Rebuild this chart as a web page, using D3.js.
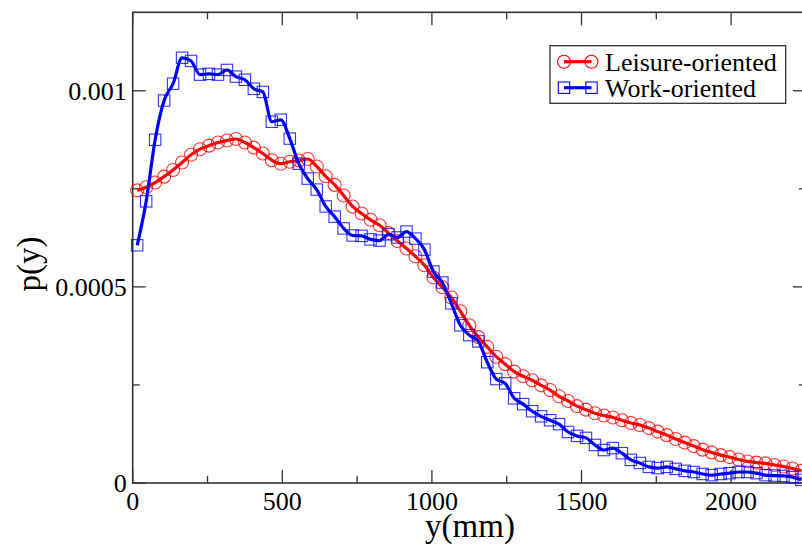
<!DOCTYPE html>
<html>
<head>
<meta charset="utf-8">
<script src="https://cdn.jsdelivr.net/npm/d3@7/dist/d3.min.js"></script>
<style>
  body { margin: 0; background: #fff; }
  svg { display: block; font-family: "Liberation Serif", "DejaVu Serif", serif; }
</style>
</head>
<body>
<svg width="802" height="546"></svg>
<script>
// bin centres, mm (30 mm bins)
var positions = d3.range(75).map(function (i) { return 15 + 30 * i })

var leisure = [
  0.000746, 0.000754, 0.000766, 0.000781, 0.000798, 0.000817, 0.000837, 0.000851, 0.000860, 0.000868,
  0.000873, 0.000877, 0.000868, 0.000855, 0.000840, 0.000823, 0.000814, 0.000819, 0.000822, 0.000826,
  0.000807, 0.000782, 0.000760, 0.000733, 0.000705, 0.000687, 0.000671, 0.000657, 0.000637, 0.000617,
  0.000598, 0.000578, 0.000555, 0.000524, 0.000499, 0.000473, 0.000438, 0.000402, 0.000372, 0.000347,
  0.000322, 0.000303, 0.000284, 0.000272, 0.000262, 0.000249, 0.000237, 0.000221, 0.000209, 0.000196,
  0.000187, 0.000178, 0.000172, 0.000167, 0.000160, 0.000153, 0.000148, 0.000140, 0.000131, 0.000122,
  0.000112, 0.000103, 0.000094, 0.000085, 0.000078, 0.000071, 0.000066, 0.000060, 0.000055, 0.000052,
  0.000050, 0.000046, 0.000042, 0.000037, 0.000031
]

var work = [
  0.000606, 0.000718, 0.000875, 0.000975, 0.001018, 0.001084, 0.001076, 0.001041, 0.001043, 0.001041,
  0.001053, 0.001036, 0.001028, 0.001005, 0.000997, 0.000921, 0.000926, 0.000878, 0.000814, 0.000776,
  0.000748, 0.000705, 0.000679, 0.000649, 0.000631, 0.000630, 0.000621, 0.000618, 0.000634, 0.000626,
  0.000641, 0.000623, 0.000595, 0.000539, 0.000511, 0.000458, 0.000402, 0.000377, 0.000361, 0.000308,
  0.000265, 0.000254, 0.000216, 0.000201, 0.000183, 0.000170, 0.000160, 0.000150, 0.000130, 0.000120,
  0.000115, 0.000097, 0.000084, 0.000089, 0.000076, 0.000059, 0.000051, 0.000041, 0.000038, 0.000041,
  0.000036, 0.000031, 0.000028, 0.000023, 0.000020, 0.000023, 0.000025, 0.000028, 0.000028, 0.000025,
  0.000020, 0.000019, 0.000018, 0.000015, 0.000008
]

var seriesNames = ['Leisure-oriented', 'Work-oriented']
var xTicks = [0, 500, 1000, 1500, 2000]
var xMinor = [250, 750, 1250, 1750, 2250]
var yTicks = [0, 0.0005, 0.001]
var yTickLabels = ['0', '0.0005', '0.001']
var yMinor = [0.00025, 0.00075]

var svg = d3.select('svg')
var plotL = 132.7, plotR = 805.9, plotT = 12.3, plotB = 483

var x = d3.scaleLinear().domain([0, 2250]).range([plotL, plotR])
var y = d3.scaleLinear().domain([0, 0.0012]).range([plotB, plotT])

var axisColor = '#333'

// ticks, all pointing inward
function xticks (vals, len) {
  var g = svg.append('g').attr('stroke', axisColor).attr('stroke-width', 1.3)
  vals.forEach(function (v) {
    g.append('line').attr('x1', x(v)).attr('x2', x(v)).attr('y1', plotB).attr('y2', plotB - len)
    g.append('line').attr('x1', x(v)).attr('x2', x(v)).attr('y1', plotT).attr('y2', plotT + len)
  })
}
xticks(xTicks, 13)
xticks(xMinor, 7)

function yticks (vals, len) {
  var g = svg.append('g').attr('stroke', axisColor).attr('stroke-width', 1.3)
  vals.forEach(function (v) {
    g.append('line').attr('x1', plotL).attr('x2', plotL + len).attr('y1', y(v)).attr('y2', y(v))
    g.append('line').attr('x1', plotR).attr('x2', plotR - len).attr('y1', y(v)).attr('y2', y(v))
  })
}
yticks(yTicks, 13)
yticks(yMinor, 7)

// tick labels
svg.append('g').selectAll('text')
    .data(xTicks)
    .enter()
    .append('text')
    .attr('x', function (d) { return x(d) })
    .attr('y', 510)
    .attr('text-anchor', 'middle')
    .style('font-size', '26px')
    .text(function (d) { return d })

svg.append('g').selectAll('text')
    .data(yTicks)
    .enter()
    .append('text')
    .attr('x', plotL - 6)
    .attr('y', function (d) { return y(d) + 9 })
    .attr('text-anchor', 'end')
    .style('font-size', '26px')
    .text(function (d, i) { return yTickLabels[i] })

// axis titles
svg.append('text')
    .attr('x', 470).attr('y', 537)
    .attr('text-anchor', 'middle')
    .style('font-size', '33px')
    .text('y(mm)')

svg.append('text')
    .attr('transform', 'translate(40,264) rotate(-90)')
    .attr('text-anchor', 'middle')
    .style('font-size', '33px')
    .text('p(y)')

// frame
svg.append('rect')
    .attr('x', plotL).attr('y', plotT)
    .attr('width', plotR - plotL).attr('height', plotB - plotT)
    .attr('fill', 'none').attr('stroke', axisColor).attr('stroke-width', 1.6)

var line = d3.line()
    .x(function (d) { return x(d[0]) })
    .y(function (d) { return y(d[1]) })
    .curve(d3.curveMonotoneX)

var sets = [
  { name: seriesNames[0], vals: leisure, color: '#ff0000', shape: 'circle' },
  { name: seriesNames[1], vals: work, color: '#0000ff', shape: 'square' }
]

sets.forEach(function (s) {
  var pts = positions.map(function (p, i) { return [p, s.vals[i]] })
  var g = svg.append('g')
  g.append('path')
      .datum(pts)
      .attr('d', line)
      .attr('fill', 'none')
      .attr('stroke', s.color)
      .attr('stroke-width', 3.2)
      .attr('stroke-linejoin', 'round')
  if (s.shape === 'circle') {
    g.selectAll('circle')
        .data(pts)
        .enter()
        .append('circle')
        .attr('cx', function (d) { return x(d[0]) })
        .attr('cy', function (d) { return y(d[1]) })
        .attr('r', 6.5)
        .attr('fill', 'none')
        .attr('stroke', s.color)
        .attr('stroke-opacity', 0.8)
        .attr('stroke-width', 1.1)
  } else {
    g.selectAll('rect')
        .data(pts)
        .enter()
        .append('rect')
        .attr('x', function (d) { return x(d[0]) - 5.7 })
        .attr('y', function (d) { return y(d[1]) - 5.7 })
        .attr('width', 11.4)
        .attr('height', 11.4)
        .attr('fill', 'none')
        .attr('stroke', s.color)
        .attr('stroke-opacity', 0.8)
        .attr('stroke-width', 1.1)
  }
})

// legend
var legend = svg.append('g')
legend.append('rect')
    .attr('x', 550).attr('y', 45.7)
    .attr('width', 235.7).attr('height', 57.6)
    .attr('fill', '#fff').attr('stroke', axisColor).attr('stroke-width', 1.3)

var rows = legend.selectAll('g')
    .data(sets)
    .enter()
    .append('g')
    .attr('transform', function (d, i) { return 'translate(0,' + (61.7 + i * 26) + ')' })

rows.append('line')
    .attr('x1', 564).attr('x2', 591.5)
    .attr('stroke', function (d) { return d.color })
    .attr('stroke-width', 3.2)

rows.each(function (d) {
  var r = d3.select(this)
  ;[564, 591.5].forEach(function (cx) {
    if (d.shape === 'circle') {
      r.append('circle').attr('cx', cx).attr('cy', 0).attr('r', 6.5)
        .attr('fill', 'none').attr('stroke', d.color).attr('stroke-width', 1.1)
    } else {
      r.append('rect').attr('x', cx - 5.7).attr('y', -5.7).attr('width', 11.4).attr('height', 11.4)
        .attr('fill', 'none').attr('stroke', d.color).attr('stroke-width', 1.1)
    }
  })
})

rows.append('text')
    .attr('x', 605).attr('y', 9)
    .style('font-size', '26px')
    .text(function (d) { return d.name })
</script>
</body>
</html>
